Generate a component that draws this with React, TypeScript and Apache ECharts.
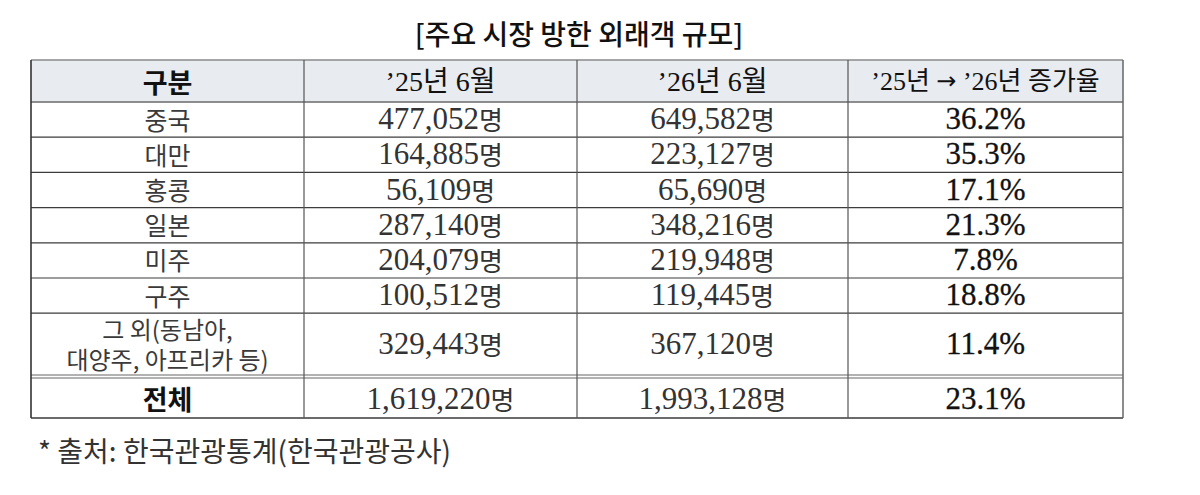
import React, { useEffect, useRef } from "react";
import * as echarts from "echarts";

// ---------- data ----------
const title = "[주요 시장 방한 외래객 규모]";
const headers = ["구분", "’25년 6월", "’26년 6월", "’25년 → ’26년 증가율"];
const regions = ["중국", "대만", "홍콩", "일본", "미주", "구주", "그 외(동남아,\n대양주, 아프리카 등)"];
const visitors2025 = [477052, 164885, 56109, 287140, 204079, 100512, 329443];
const visitors2026 = [649582, 223127, 65690, 348216, 219948, 119445, 367120];
const growthRates = [36.2, 35.3, 17.1, 21.3, 7.8, 18.8, 11.4];
const totalLabel = "전체";
const total2025 = 1619220;
const total2026 = 1993128;
const totalGrowth = 23.1;
const unit = "명";
const footnote = "* 출처: 한국관광통계(한국관광공사)";

// ---------- layout ----------
const COL_X = [31, 304, 577, 848, 1123];
const HEAD_TOP = 60;
const HEAD_BOTTOM = 102;
const ROW_H = 35.2;
const TALL_BOTTOM = 375;
const TOTAL_TOP = 378;
const TABLE_BOTTOM = 418;

const SANS = "'Noto Sans CJK KR', 'Noto Sans', sans-serif";
const SERIF = "'Liberation Serif', 'Noto Sans CJK KR', serif";
const ARROW = "'DejaVu Sans', 'Noto Sans CJK KR', sans-serif";

function fmt(n: number) {
  return n.toLocaleString("en-US");
}

function buildGraphics() {
  const els: any[] = [];
  const left = COL_X[0];
  const right = COL_X[COL_X.length - 1];
  const colCenter = (i: number) => (COL_X[i] + COL_X[i + 1]) / 2;

  // title
  els.push({
    type: "text",
    x: 579,
    y: 33,
    style: {
      text: title,
      fontFamily: SANS,
      fontSize: 28,
      fontWeight: 500,
      fill: "#111",
      align: "center",
      verticalAlign: "middle",
    },
  });

  // header background
  els.push({
    type: "rect",
    shape: { x: left, y: HEAD_TOP, width: right - left, height: HEAD_BOTTOM - HEAD_TOP },
    style: { fill: "#e8ebef" },
  });

  // row bounds
  const rows: [number, number][] = [];
  for (let i = 0; i < regions.length; i++) {
    const top = HEAD_BOTTOM + i * ROW_H;
    const bottom = i === regions.length - 1 ? TALL_BOTTOM : HEAD_BOTTOM + (i + 1) * ROW_H;
    rows.push([top, bottom]);
  }

  const hline = (y: number, stroke: string, w = 1) =>
    els.push({
      type: "line",
      shape: { x1: left, y1: y, x2: right, y2: y },
      style: { stroke, lineWidth: w },
    });
  const vline = (x: number, y1: number, y2: number, stroke: string, w = 1) =>
    els.push({
      type: "line",
      shape: { x1: x, y1, x2: x, y2 },
      style: { stroke, lineWidth: w },
    });

  hline(HEAD_TOP, "#8a8a8a", 1.5);
  hline(HEAD_BOTTOM, "#6a6a6a", 1.5);
  rows.forEach(([, b], i) => {
    if (i < rows.length - 1) hline(b, "#3c3c3c", 1.2);
  });
  hline(TALL_BOTTOM, "#666", 1.2);
  hline(TOTAL_TOP, "#666", 1.2);
  hline(TABLE_BOTTOM, "#3a3a3a", 1.5);

  vline(left, HEAD_TOP, TABLE_BOTTOM, "#333", 1.6);
  for (let i = 1; i < COL_X.length - 1; i++) vline(COL_X[i], HEAD_TOP, TABLE_BOTTOM, "#555", 1.2);
  vline(right, HEAD_TOP, TABLE_BOTTOM, "#666", 1.5);

  // header texts
  const headY = (HEAD_TOP + HEAD_BOTTOM) / 2;
  headers.forEach((h, i) => {
    if (i === 3) {
      const parts = h.split("→");
      els.push({
        type: "text",
        x: colCenter(i),
        y: headY,
        style: {
          text: `{a|${parts[0]}}{b|→}{a|${parts[1]}}`,
          rich: {
            a: { fontFamily: SERIF, fontSize: 26, fill: "#111" },
            b: { fontFamily: ARROW, fontSize: 24, fill: "#111" },
          },
          align: "center",
          verticalAlign: "middle",
        },
      });
      return;
    }
    els.push({
      type: "text",
      x: colCenter(i),
      y: headY,
      style: {
        text: h,
        fontFamily: i === 0 ? SANS : SERIF,
        fontSize: i === 0 ? 27 : 28,
        fontWeight: i === 0 ? "bold" : "normal",
        fill: "#111",
        align: "center",
        verticalAlign: "middle",
      },
    });
  });

  const numRich = {
    n: { fontFamily: SERIF, fontSize: 31, fill: "#333" },
    u: { fontFamily: SANS, fontSize: 26, fill: "#333" },
  };

  const numberCell = (x: number, y: number, v: number) =>
    els.push({
      type: "text",
      x,
      y,
      style: {
        text: `{n|${fmt(v)}}{u|${unit}}`,
        rich: numRich,
        align: "center",
        verticalAlign: "middle",
      },
    });
  const pctCell = (x: number, y: number, v: number) =>
    els.push({
      type: "text",
      x,
      y,
      style: {
        text: `${v.toFixed(1)}%`,
        fontFamily: SERIF,
        fontSize: 31,
        fill: "#111",
        stroke: "#111",
        lineWidth: 0.3,
        align: "center",
        verticalAlign: "middle",
      },
    });

  rows.forEach(([t, b], i) => {
    const cy = (t + b) / 2 - 1;
    const multi = regions[i].includes("\n");
    els.push({
      type: "text",
      x: colCenter(0),
      y: cy,
      style: {
        text: regions[i],
        fontFamily: SANS,
        fontSize: multi ? 24 : 25,
        lineHeight: multi ? 30 : 28,
        fill: "#3a3a3a",
        align: "center",
        verticalAlign: "middle",
      },
    });
    numberCell(colCenter(1), cy, visitors2025[i]);
    numberCell(colCenter(2), cy, visitors2026[i]);
    pctCell(colCenter(3), cy, growthRates[i]);
  });

  // total row
  const ty = (TOTAL_TOP + TABLE_BOTTOM) / 2;
  els.push({
    type: "text",
    x: colCenter(0),
    y: ty,
    style: {
      text: totalLabel,
      fontFamily: SANS,
      fontSize: 27,
      fontWeight: "bold",
      fill: "#111",
      align: "center",
      verticalAlign: "middle",
    },
  });
  numberCell(colCenter(1), ty, total2025);
  numberCell(colCenter(2), ty, total2026);
  pctCell(colCenter(3), ty, totalGrowth);

  // footnote
  els.push({
    type: "text",
    x: 38,
    y: 450,
    style: {
      text: footnote,
      fontFamily: SANS,
      fontSize: 28,
      fill: "#333",
      align: "left",
      verticalAlign: "middle",
    },
  });

  return els;
}

export default function App() {
  const ref = useRef<HTMLDivElement>(null);
  useEffect(() => {
    if (!ref.current) return;
    const chart = echarts.init(ref.current, null, { renderer: "svg" });
    chart.setOption({
      animation: false,
      backgroundColor: "#ffffff",
      graphic: { elements: buildGraphics() },
    });
    return () => chart.dispose();
  }, []);
  return (
    <div
      ref={ref}
      style={{ position: "absolute", left: 0, top: 0, width: 1200, height: 495 }}
    />
  );
}
